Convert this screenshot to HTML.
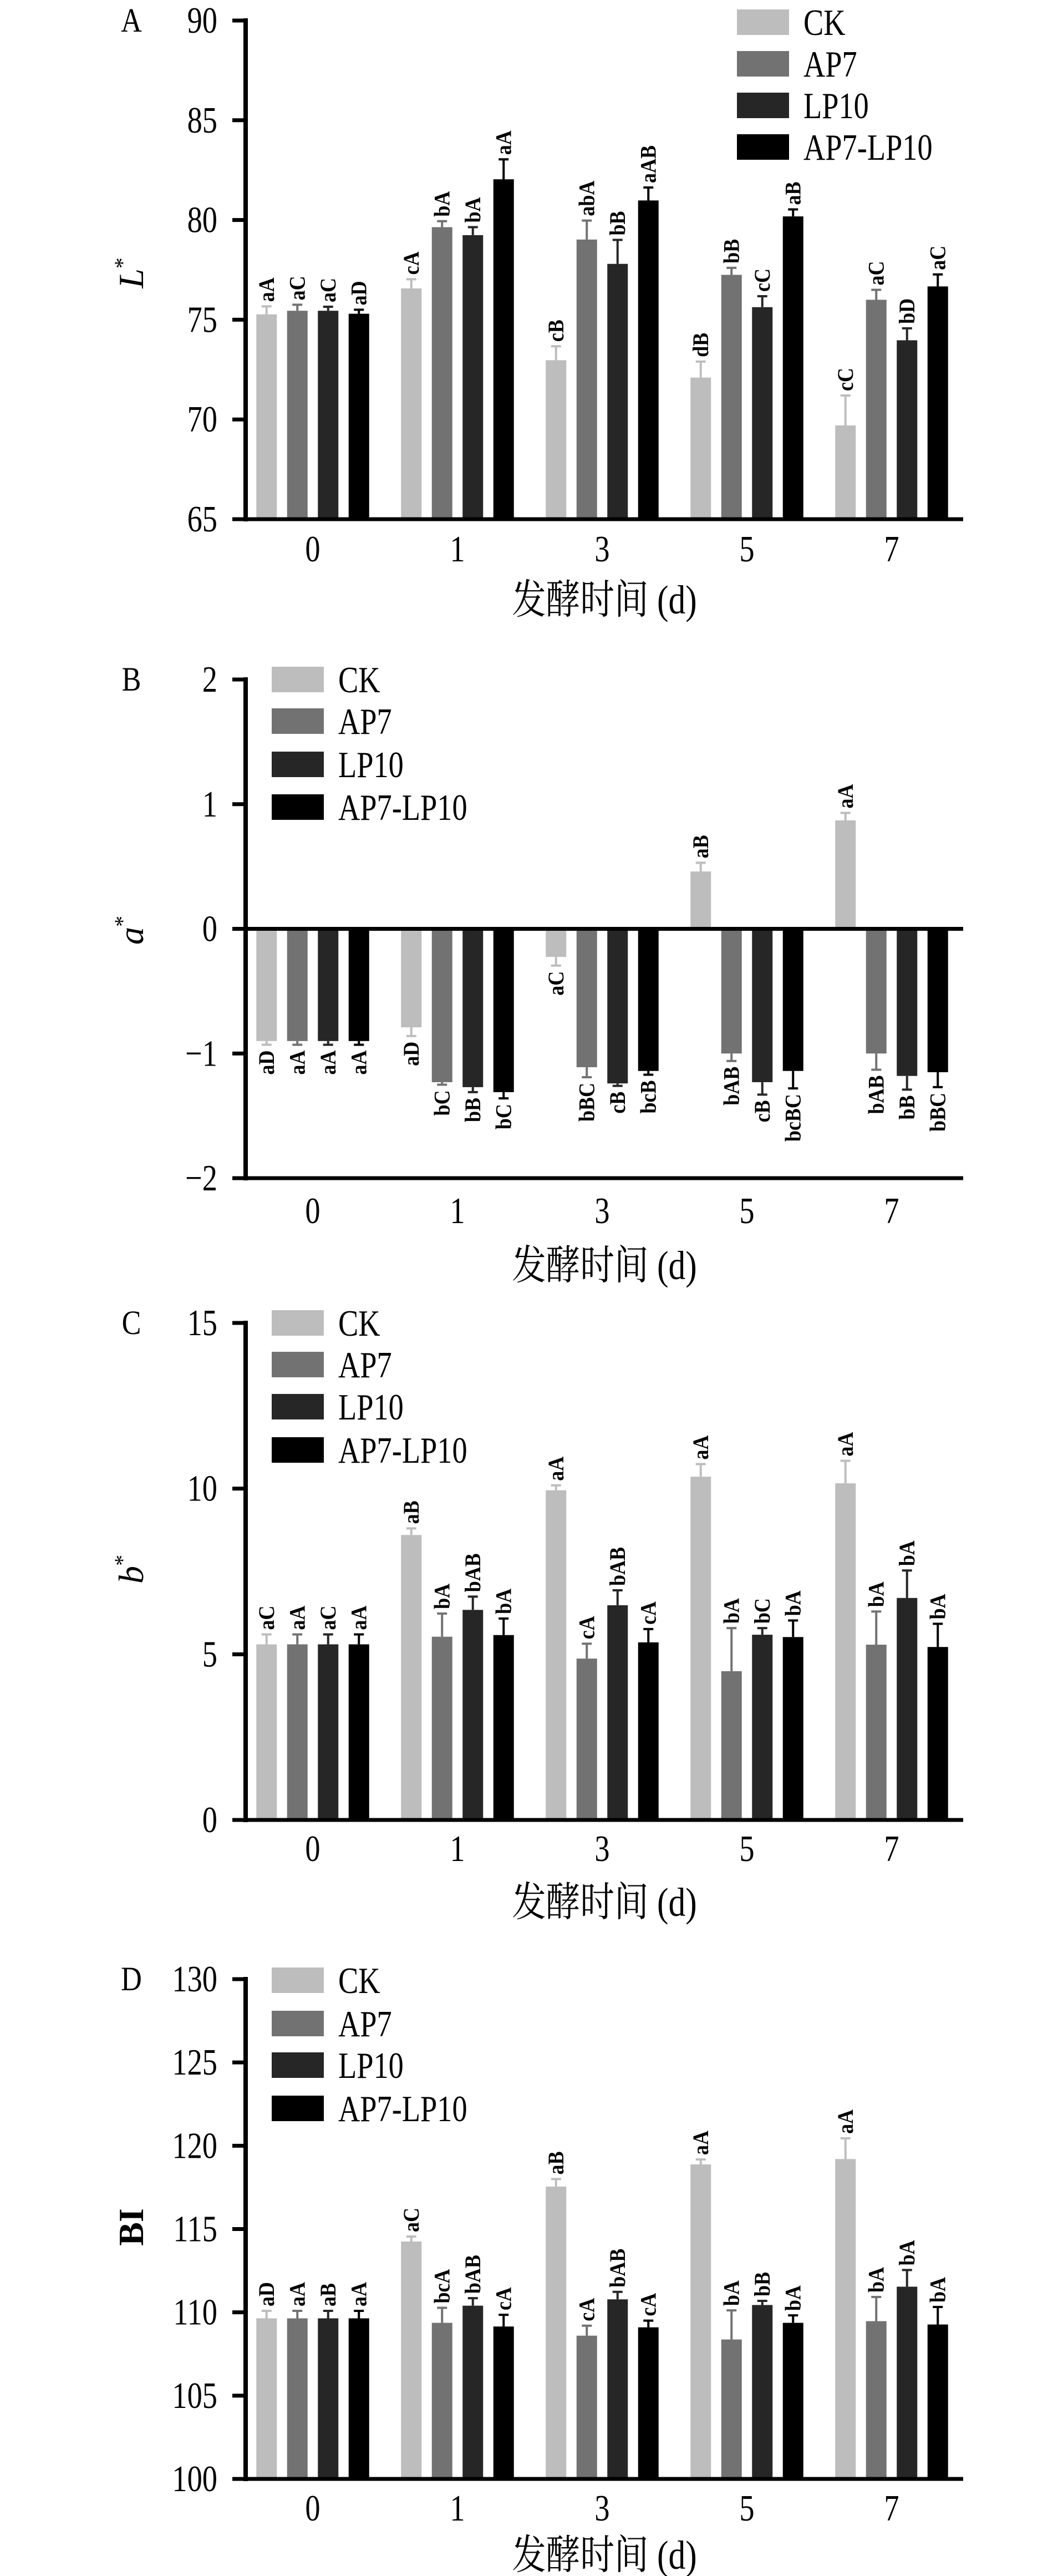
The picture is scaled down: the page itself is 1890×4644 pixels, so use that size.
<!DOCTYPE html>
<html><head><meta charset="utf-8"><style>
html,body{margin:0;padding:0;background:#fff}
svg{display:block}
text{font-family:"Liberation Serif","Noto Serif CJK SC","Noto Sans CJK SC",serif;fill:#000}
</style></head><body>
<svg id="fig" width="1890" height="4644" viewBox="0 0 1890 4644" xmlns="http://www.w3.org/2000/svg"></svg>
<script>
const categories=['0','1','3','5','7'];
const seriesNames=['CK','AP7','LP10','AP7-LP10'];
const seriesColors=['#bdbdbd','#727272','#262626','#000000'];
// Panel A: L*
const lCK=[75.27,76.57,72.97,72.1,69.7];
const lAP7=[75.45,79.64,79.02,77.25,76.0];
const lLP10=[75.45,79.24,77.8,75.63,73.97];
const lMix=[75.3,82.04,80.98,80.18,76.67];
const lErrCK=[0.4,0.46,0.7,0.8,1.5];
const lErrAP7=[0.3,0.3,0.95,0.35,0.5];
const lErrLP10=[0.2,0.4,1.2,0.55,0.6];
const lErrMix=[0.2,1.0,0.65,0.35,0.6];
const lLetCK=['aA','cA','cB','dB','cC'];
const lLetAP7=['aC','bA','abA','bB','aC'];
const lLetLP10=['aC','bA','bB','cC','bD'];
const lLetMix=['aD','aA','aAB','aB','aC'];
const lTicks=[65,70,75,80,85,90];
// Panel B: a*
const aCK=[-0.9,-0.79,-0.225,0.46,0.87];
const aAP7=[-0.9,-1.23,-1.11,-1.0,-1.0];
const aLP10=[-0.9,-1.27,-1.24,-1.23,-1.18];
const aMix=[-0.9,-1.31,-1.14,-1.14,-1.15];
const aErrCK=[0.03,0.07,0.07,0.07,0.06];
const aErrAP7=[0.03,0.02,0.08,0.06,0.13];
const aErrLP10=[0.03,0.04,0.02,0.1,0.11];
const aErrMix=[0.03,0.05,0.03,0.14,0.12];
const aLetCK=['aD','aD','aC','aB','aA'];
const aLetAP7=['aA','bC','bBC','bAB','bAB'];
const aLetLP10=['aA','bB','cB','cB','bB'];
const aLetMix=['aA','bC','bcB','bcBC','bBC'];
const aTicks=[-2,-1,0,1,2];
// Panel C: b*
const bCK=[5.3,8.6,9.95,10.36,10.16];
const bAP7=[5.3,5.53,4.87,4.49,5.29];
const bLP10=[5.3,6.34,6.48,5.59,6.7];
const bMix=[5.3,5.58,5.36,5.52,5.22];
const bErrCK=[0.3,0.2,0.15,0.38,0.68];
const bErrAP7=[0.3,0.7,0.45,1.3,1.0];
const bErrLP10=[0.3,0.4,0.45,0.2,0.83];
const bErrMix=[0.3,0.5,0.4,0.5,0.7];
const bLetCK=['aC','aB','aA','aA','aA'];
const bLetAP7=['aA','bA','cA','bA','bA'];
const bLetLP10=['aC','bAB','bAB','bC','bA'];
const bLetMix=['aA','bA','cA','bA','bA'];
const bTicks=[0,5,10,15];
// Panel D: BI
const dCK=[109.64,114.25,117.55,118.88,119.2];
const dAP7=[109.64,109.37,108.6,108.37,109.47];
const dLP10=[109.64,110.4,110.78,110.44,111.54];
const dMix=[109.64,109.15,109.1,109.37,109.27];
const dErrCK=[0.45,0.3,0.45,0.3,1.25];
const dErrAP7=[0.45,0.9,0.6,1.75,1.45];
const dErrLP10=[0.45,0.45,0.45,0.25,1.0];
const dErrMix=[0.45,0.7,0.4,0.45,1.05];
const dLetCK=['aD','aC','aB','aA','aA'];
const dLetAP7=['aA','bcA','cA','bA','bA'];
const dLetLP10=['aB','bAB','bAB','bB','bA'];
const dLetMix=['aA','cA','cA','bA','bA'];
const dTicks=[100,105,110,115,120,125,130];

const NS='http://www.w3.org/2000/svg';
const svg=document.getElementById('fig');
function el(tag,attrs,parent){const e=document.createElementNS(NS,tag);for(const k in attrs)e.setAttribute(k,attrs[k]);(parent||svg).appendChild(e);return e;}

const AX=443, XL=419, XR=1737, CX0=564, STEP=261, PITCH=55.5, BW=37;
function xCat(i){return CX0+i*STEP;}
function xBar(i,s){return xCat(i)+(s-1.5)*PITCH;}

const panels=[
 {id:'a',letter:'A',yTop:37,yBot:936,vMax:90,vMin:65,base:65,ticks:lTicks,vals:[lCK,lAP7,lLP10,lMix],errs:[lErrCK,lErrAP7,lErrLP10,lErrMix],lets:[lLetCK,lLetAP7,lLetLP10,lLetMix],xtY:990,titleY:1080,ytY:492,ytitle:'L',legX:1329,legTX:1449,legY:[40,115,190,265]},
 {id:'b',letter:'B',yTop:1225,yBot:2124,vMax:2,vMin:-2,base:0,ticks:aTicks,vals:[aCK,aAP7,aLP10,aMix],errs:[aErrCK,aErrAP7,aErrLP10,aErrMix],lets:[aLetCK,aLetAP7,aLetLP10,aLetMix],xtY:2183,titleY:2280,ytY:1677,ytitle:'a',legX:490,legTX:610,legY:[1225,1300,1378,1455]},
 {id:'c',letter:'C',yTop:2385,yBot:3281,vMax:15,vMin:0,base:0,ticks:bTicks,vals:[bCK,bAP7,bLP10,bMix],errs:[bErrCK,bErrAP7,bErrLP10,bErrMix],lets:[bLetCK,bLetAP7,bLetLP10,bLetMix],xtY:3333,titleY:3428,ytY:2829,ytitle:'b',legX:490,legTX:610,legY:[2385,2460,2536,2614]},
 {id:'d',letter:'D',yTop:3568,yBot:4469,vMax:130,vMin:100,base:100,ticks:dTicks,vals:[dCK,dAP7,dLP10,dMix],errs:[dErrCK,dErrAP7,dErrLP10,dErrMix],lets:[dLetCK,dLetAP7,dLetLP10,dLetMix],xtY:4522,titleY:4605,ytY:4015,ytitle:'BI',legX:490,legTX:610,legY:[3570,3648,3723,3801]}
];

function ctext(parent,x,y,size,anchor,str,sx){
 const t=el('text',{x:0,y:0,'font-size':size,'text-anchor':anchor,transform:`translate(${x},${y}) scale(${sx},1.05)`},parent);
 t.textContent=str;
 return t;
}

panels.forEach(p=>{
 const g=el('g',{});
 
 
 const y=v=>p.yTop+(p.vMax-v)/(p.vMax-p.vMin)*(p.yBot-p.yTop);
 const pl=ctext(g,237,p.yTop+20,58,'middle',p.letter,0.9);
 
 
 for(let s=0;s<4;s++){
  for(let i=0;i<categories.length;i++){
   const v=p.vals[s][i], e=p.errs[s][i];
   const x=xBar(i,s), yb=y(p.base), yv=y(v);
   const r=el('rect',{x:x-BW/2,y:Math.min(yb,yv),width:BW,height:Math.abs(yb-yv),fill:seriesColors[s]},g);
   
   
   const neg=v<p.base;
   const ye=y(neg?v-e:v+e);
   const eb=el('path',{d:`M${x} ${yv}V${ye}M${x-9} ${ye}H${x+9}`,stroke:seriesColors[s],'stroke-width':4,fill:'none'},g);
   
   
   const ly=neg?ye+10:ye-8;
   const t=el('text',{x:0,y:0,'font-size':40,'font-weight':'bold','text-anchor':neg?'end':'start',transform:`translate(${x+13},${ly}) rotate(-90) scale(0.9,1)`},g);
   t.textContent=p.lets[s][i];
   
   
  }
 }
 const ya=el('line',{x1:AX,y1:p.yTop-4,x2:AX,y2:p.yBot+4,stroke:'#000','stroke-width':8},g);
 
 
 const xa=el('line',{x1:XL,y1:y(p.base),x2:XR,y2:y(p.base),stroke:'#000','stroke-width':7},g);
 
 
 if(p.base!==p.vMin){
  const xb=el('line',{x1:XL,y1:p.yBot,x2:XR,y2:p.yBot,stroke:'#000','stroke-width':7},g);
  
  
 }
 p.ticks.forEach(tv=>{
  const ty=y(tv);
  const tk=el('line',{x1:XL,y1:ty,x2:AX,y2:ty,stroke:'#000','stroke-width':7},g);
  
  
  const tl=ctext(g,392,ty+22,64,'end',tv<0?'\u2212'+Math.abs(tv):String(tv),0.85);
  
  
 });
 categories.forEach((c,i)=>{
  const xl=ctext(g,xCat(i),p.xtY+22,64,'middle',c,0.85);
  
  
 });
 const xt=ctext(g,1090,p.titleY+26,70,'middle','发酵时间 (d)',0.88);
 
 
 const yt=el('text',{x:0,y:0,'font-size':64,'text-anchor':'middle',transform:`translate(258,${p.ytY}) rotate(-90)`},g);
 if(p.ytitle==='BI'){yt.setAttribute('font-weight','bold');yt.textContent='BI';}
 else{
  const t1=el('tspan',{'font-style':'italic'},yt);t1.textContent=p.ytitle;
  const t2=el('tspan',{'font-size':40,dy:-24},yt);t2.textContent='*';
 }
 
 
 seriesNames.forEach((n,s)=>{
  const lg=el('g',{},g);
  
  
  el('rect',{x:p.legX,y:p.legY[s]-23,width:94,height:46,fill:seriesColors[s]},lg);
  ctext(lg,p.legTX,p.legY[s]+23,64,'start',n,0.85);
 });
});
</script>
</body></html>
